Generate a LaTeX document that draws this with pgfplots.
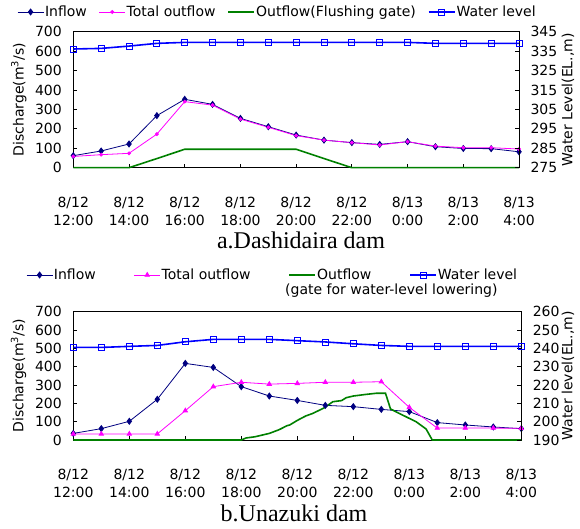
\documentclass[border=0pt]{standalone}
\usepackage{fontspec}
\setmainfont{DejaVu Sans}
\newfontfamily\serif{Liberation Serif}
\usepackage{pgfplots}
\pgfplotsset{compat=1.18}
\definecolor{inflowc}{HTML}{000080}
\definecolor{outc}{HTML}{FF00FF}
\definecolor{gatec}{HTML}{008000}
\definecolor{wlc}{HTML}{0000FF}
\newcommand{\lf}{\fontsize{14}{17}\selectfont}
\pgfplotsset{
  base/.style={scale only axis, clip=false, tick align=inside, major tick length=4pt,
    tick style={black, line width=0.8pt}, axis line style={line width=0.9pt},
    /pgf/number format/assume math mode=true,
    yticklabel style={font=\lf}, label style={font=\lf},
    xmin=0, xmax=16, xtick={0,2,...,16},
    legend image code/.code={\draw[mark repeat=2,mark phase=2,##1] plot coordinates {(0pt,0pt)(13pt,0pt)(26pt,0pt)};}},
  inflow/.style={color=inflowc, line width=0.8pt, mark=diamond*, mark size=3pt, mark options={solid, fill=inflowc}},
  outa/.style={color=outc, line width=0.8pt, mark=*, mark size=1.5pt, mark options={solid, fill=outc}},
  outb/.style={color=outc, line width=0.8pt, mark=triangle*, mark size=2.5pt, mark options={solid, fill=outc}},
  gate/.style={color=gatec, line width=1.6pt, no marks},
  wl/.style={color=wlc, line width=1.6pt, mark=square, mark size=3pt, mark options={solid, fill=white, line width=0.8pt}},
  xlabs/.style={xticklabels={{8/12\\[1pt]12:00},{8/12\\[1pt]14:00},{8/12\\[1pt]16:00},{8/12\\[1pt]18:00},{8/12\\[1pt]20:00},{8/12\\[1pt]22:00},{8/13\\[1pt]0:00},{8/13\\[1pt]2:00},{8/13\\[1pt]4:00}},
    xticklabel style={align=center, font=\lf, yshift=-26pt}},
}
\begin{document}
\begin{tikzpicture}
\useasboundingbox (0,0) rectangle (580pt,528pt);
% ---------- top chart ----------
\begin{axis}[base, at={(73.3pt,360.3pt)}, anchor=south west, width=445.7pt, height=136pt,
  ymin=0, ymax=700, ytick={0,100,...,700}, ytick pos=left, xtick pos=bottom, xlabs,
  yticklabel style={xshift=-8pt},
  ylabel={Discharge(m\textsuperscript{3}/s)}, ylabel style={at={(axis description cs:-0.122,0.5)}, anchor=center, inner sep=0pt}]
\addplot[inflow] coordinates {(0,62)(1,86)(2,122)(3,268)(4,352)(5,326)(6,254)(7,211)(8,168)(9,142)(10,129)(11,120)(12,134)(13,108)(14,99)(15,98)(16,82)};
\addplot[outa] coordinates {(0,58)(1,67)(2,74)(3,173)(4,340)(5,322)(6,250)(7,208)(8,165)(9,142)(10,129)(11,117)(12,134)(13,111)(14,103)(15,103)(16,96)};
\addplot[gate] coordinates {(0,0)(1,0)(2,0)(3,47)(4,95)(5,95)(6,95)(7,95)(8,95)(9,47)(10,0)(11,0)(12,0)(13,0)(14,0)(15,0)(16,0)};
\end{axis}
\begin{axis}[base, at={(73.3pt,360.3pt)}, anchor=south west, width=445.7pt, height=136pt,
  ymin=275, ymax=345, ytick={275,285,...,345}, axis y line*=right, hide x axis,
  yticklabel style={xshift=8pt},
  ylabel={Water Level(EL.,m)}, ylabel style={at={(axis description cs:1.110,0.5)}, anchor=center, inner sep=0pt},
  legend columns=4, legend cell align=left,
  legend style={at={(axis description cs:-0.1263,1.145)}, anchor=west, draw=none, fill=none, inner sep=0pt,
    font=\lf, nodes={inner sep=1pt}, /tikz/every even column/.append style={column sep=11pt}}]
\addlegendimage{inflow}\addlegendentry{Inflow}
\addlegendimage{outa}\addlegendentry{Total outflow}
\addlegendimage{gate}\addlegendentry{Outflow(Flushing gate)}
\addplot[wl] coordinates {(0,336.1)(1,336.4)(2,337.6)(3,339.0)(4,339.5)(5,339.5)(6,339.5)(7,339.5)(8,339.5)(9,339.5)(10,339.5)(11,339.5)(12,339.5)(13,339.0)(14,339.0)(15,339.0)(16,339.0)};
\addlegendentry{Water level}
\end{axis}
% ---------- bottom chart ----------
\begin{axis}[base, at={(73.3pt,88pt)}, anchor=south west, width=448pt, height=128.3pt,
  ymin=0, ymax=700, ytick={0,100,...,700}, ytick pos=left, xtick pos=bottom, xlabs,
  yticklabel style={xshift=-8pt},
  ylabel={Discharge(m\textsuperscript{3}/s)}, ylabel style={at={(axis description cs:-0.122,0.5)}, anchor=center, inner sep=0pt}]
\addplot[inflow] coordinates {(0,36)(1,62)(2,102)(3,222)(4,418)(5,396)(6,291)(7,240)(8,216)(9,189)(10,182)(11,167)(12,155)(13,95)(14,82)(15,71)(16,62)};
\addplot[outb] coordinates {(0,33)(1,33)(2,33)(3,33)(4,160)(5,291)(6,315)(7,305)(8,309)(9,315)(10,315)(11,318)(12,178)(13,65)(14,65)(15,65)(16,64)};
\addplot[gate] coordinates {(0,0)(6,0)(6.17,11)(6.5,18)(7,36)(7.33,55)(7.4,60)(7.63,78)(7.73,82)(8,107)(8.3,131)(8.55,145)(8.97,176)(9.27,209)(9.58,215)(9.75,231)(10,240)(10.46,249)(10.82,255)(11.15,255)(11.33,169)(11.76,136)(12,118)(12.24,100)(12.6,60)(12.82,0)(16,0)};
\end{axis}
\begin{axis}[base, at={(73.3pt,88pt)}, anchor=south west, width=448pt, height=128.3pt,
  ymin=190, ymax=260, ytick={190,200,...,260}, axis y line*=right, hide x axis,
  yticklabel style={xshift=8pt},
  ylabel={Water level(EL.,m)}, ylabel style={at={(axis description cs:1.104,0.5)}, anchor=center, inner sep=0pt},
  legend columns=4, legend cell align=left,
  legend style={at={(axis description cs:-0.1056,1.286)}, anchor=west, draw=none, fill=none, inner sep=0pt,
    font=\lf, nodes={inner sep=1pt}, /tikz/every even column/.append style={column sep=37pt}}]
\addlegendimage{inflow}\addlegendentry{Inflow}
\addlegendimage{outb}\addlegendentry{Total outflow}
\addlegendimage{gate}\addlegendentry{Outflow}
\addplot[wl] coordinates {(0,240.5)(1,240.5)(2,241.1)(3,241.6)(4,243.6)(5,244.9)(6,244.9)(7,244.9)(8,244.2)(9,243.5)(10,242.5)(11,241.6)(12,241.1)(13,241.1)(14,241.1)(15,241.1)(16,241.1)};
\addlegendentry{Water level}
\end{axis}
\node[font=\lf, anchor=west, inner sep=0pt] at (285pt,237pt) {(gate for water-level lowering)};
\node[font=\serif\fontsize{24}{28}\selectfont, inner sep=0pt] at (301pt,288pt) {a.Dashidaira dam};
\node[font=\serif\fontsize{24}{28}\selectfont, inner sep=0pt] at (294pt,15pt) {b.Unazuki dam};
\end{tikzpicture}
\end{document}
